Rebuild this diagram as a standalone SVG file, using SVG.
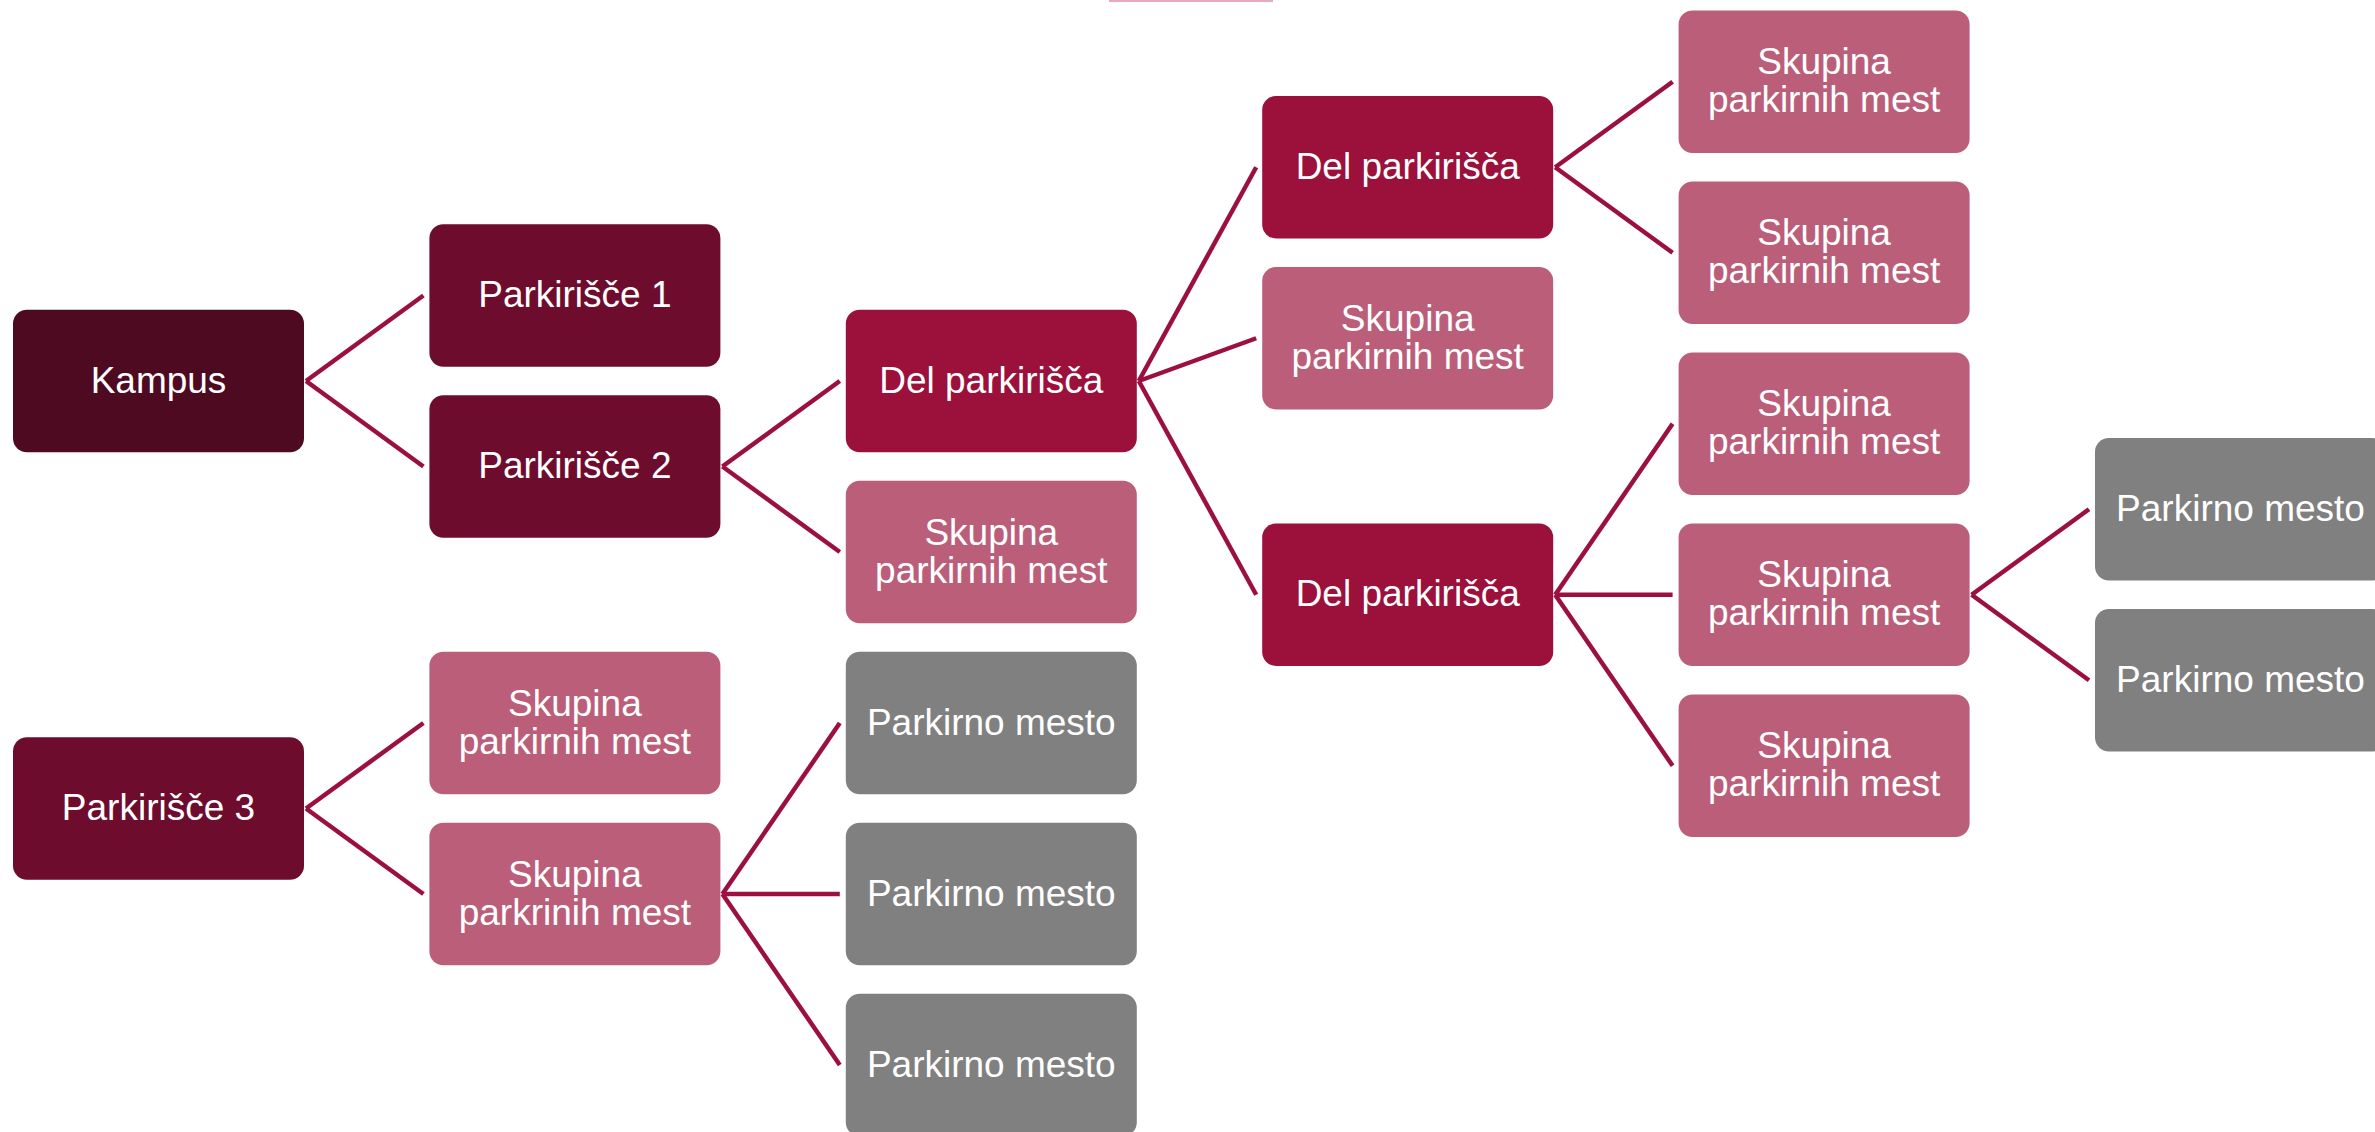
<svg xmlns="http://www.w3.org/2000/svg" width="2375" height="1132" viewBox="0 0 2375 1132">
<style>
.l0{fill:#4e0a21}
.l1{fill:#6e0c2e}
.l2{fill:#9c103c}
.l3{fill:#bb5e7a}
.l4{fill:#808080}
text{font-family:"Liberation Sans",Arial,sans-serif;font-size:37px;fill:#ffffff;text-anchor:middle}
.c line{stroke:#9b1040;stroke-width:4.5;fill:none}
</style>
<rect x="1109" y="-2" width="164" height="4" fill="#e8a9c0"/>
<g class="c" id="connectors">
<line x1="306" y1="381" x2="423.4" y2="295.5"/>
<line x1="306" y1="381" x2="423.4" y2="466.5"/>
<line x1="722.4" y1="466.5" x2="839.8" y2="381"/>
<line x1="722.4" y1="466.5" x2="839.8" y2="552"/>
<line x1="1138.8" y1="381" x2="1256.2" y2="167.25"/>
<line x1="1138.8" y1="381" x2="1256.2" y2="338.25"/>
<line x1="1138.8" y1="381" x2="1256.2" y2="594.75"/>
<line x1="1555.2" y1="167.25" x2="1672.6" y2="81.75"/>
<line x1="1555.2" y1="167.25" x2="1672.6" y2="252.75"/>
<line x1="1555.2" y1="594.75" x2="1672.6" y2="423.75"/>
<line x1="1555.2" y1="594.75" x2="1672.6" y2="594.75"/>
<line x1="1555.2" y1="594.75" x2="1672.6" y2="765.75"/>
<line x1="1971.6" y1="594.75" x2="2089" y2="509.25"/>
<line x1="1971.6" y1="594.75" x2="2089" y2="680.25"/>
<line x1="306" y1="808.5" x2="423.4" y2="723"/>
<line x1="306" y1="808.5" x2="423.4" y2="894"/>
<line x1="722.4" y1="894" x2="839.8" y2="723"/>
<line x1="722.4" y1="894" x2="839.8" y2="894"/>
<line x1="722.4" y1="894" x2="839.8" y2="1065"/>
</g>
<g id="kampus"><rect class="l0" x="13" y="309.75" width="291" height="142.5" rx="14"/><text x="158.5" y="392.5">Kampus</text></g>
<g id="parkirisce1"><rect class="l1" x="429.4" y="224.25" width="291" height="142.5" rx="14"/><text x="574.9" y="307">Parkirišče 1</text></g>
<g id="parkirisce2"><rect class="l1" x="429.4" y="395.25" width="291" height="142.5" rx="14"/><text x="574.9" y="478">Parkirišče 2</text></g>
<g id="parkirisce3"><rect class="l1" x="13" y="737.25" width="291" height="142.5" rx="14"/><text x="158.5" y="820">Parkirišče 3</text></g>
<g id="p3-skupina1"><rect class="l3" x="429.4" y="651.75" width="291" height="142.5" rx="14"/><text x="574.9" y="715.5">Skupina</text><text x="574.9" y="753.5">parkirnih mest</text></g>
<g id="p3-skupina2"><rect class="l3" x="429.4" y="822.75" width="291" height="142.5" rx="14"/><text x="574.9" y="886.5">Skupina</text><text x="574.9" y="924.5">parkrinih mest</text></g>
<g id="p3-mesto1"><rect class="l4" x="845.8" y="651.75" width="291" height="142.5" rx="14"/><text x="991.3" y="734.5">Parkirno mesto</text></g>
<g id="p3-mesto2"><rect class="l4" x="845.8" y="822.75" width="291" height="142.5" rx="14"/><text x="991.3" y="905.5">Parkirno mesto</text></g>
<g id="p3-mesto3"><rect class="l4" x="845.8" y="993.75" width="291" height="142.5" rx="14"/><text x="991.3" y="1076.5">Parkirno mesto</text></g>
<g id="p2-del"><rect class="l2" x="845.8" y="309.75" width="291" height="142.5" rx="14"/><text x="991.3" y="392.5">Del parkirišča</text></g>
<g id="p2-skupina"><rect class="l3" x="845.8" y="480.75" width="291" height="142.5" rx="14"/><text x="991.3" y="544.5">Skupina</text><text x="991.3" y="582.5">parkirnih mest</text></g>
<g id="del-a"><rect class="l2" x="1262.2" y="96" width="291" height="142.5" rx="14"/><text x="1407.7" y="178.75">Del parkirišča</text></g>
<g id="del-skupina"><rect class="l3" x="1262.2" y="267" width="291" height="142.5" rx="14"/><text x="1407.7" y="330.75">Skupina</text><text x="1407.7" y="368.75">parkirnih mest</text></g>
<g id="del-b"><rect class="l2" x="1262.2" y="523.5" width="291" height="142.5" rx="14"/><text x="1407.7" y="606.25">Del parkirišča</text></g>
<g id="a-skupina1"><rect class="l3" x="1678.6" y="10.5" width="291" height="142.5" rx="14"/><text x="1824.1" y="74.25">Skupina</text><text x="1824.1" y="112.25">parkirnih mest</text></g>
<g id="a-skupina2"><rect class="l3" x="1678.6" y="181.5" width="291" height="142.5" rx="14"/><text x="1824.1" y="245.25">Skupina</text><text x="1824.1" y="283.25">parkirnih mest</text></g>
<g id="b-skupina1"><rect class="l3" x="1678.6" y="352.5" width="291" height="142.5" rx="14"/><text x="1824.1" y="416.25">Skupina</text><text x="1824.1" y="454.25">parkirnih mest</text></g>
<g id="b-skupina2"><rect class="l3" x="1678.6" y="523.5" width="291" height="142.5" rx="14"/><text x="1824.1" y="587.25">Skupina</text><text x="1824.1" y="625.25">parkirnih mest</text></g>
<g id="b-skupina3"><rect class="l3" x="1678.6" y="694.5" width="291" height="142.5" rx="14"/><text x="1824.1" y="758.25">Skupina</text><text x="1824.1" y="796.25">parkirnih mest</text></g>
<g id="b-mesto1"><rect class="l4" x="2095" y="438" width="291" height="142.5" rx="14"/><text x="2240.5" y="520.75">Parkirno mesto</text></g>
<g id="b-mesto2"><rect class="l4" x="2095" y="609" width="291" height="142.5" rx="14"/><text x="2240.5" y="691.75">Parkirno mesto</text></g>
</svg>
